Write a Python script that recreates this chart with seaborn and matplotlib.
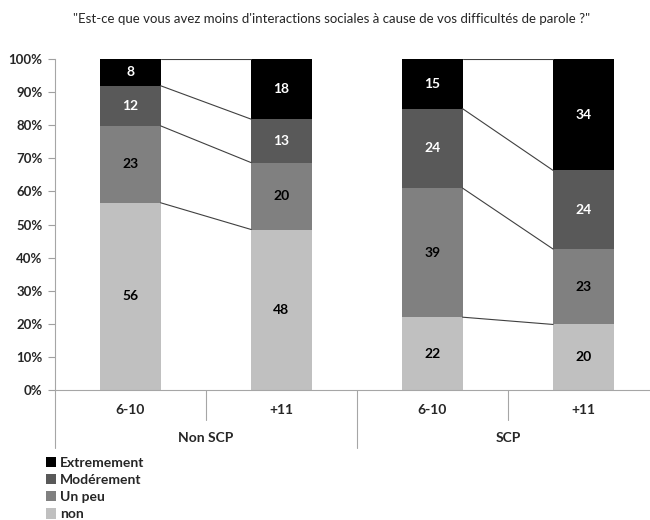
import numpy as np
import pandas as pd
import matplotlib.pyplot as plt
import seaborn as sns
from matplotlib.patches import Patch
from matplotlib.transforms import blended_transform_factory

# bars, left to right
bars = ["6-10", "+11", "6-10 ", "+11 "]
age_labels = ["6-10", "+11", "6-10", "+11"]
groups = ["Non SCP", "SCP"]
levels = ["non", "Un peu", "Modérement", "Extremement"]

non = [56, 48, 22, 20]
un_peu = [23, 20, 39, 23]
moderement = [12, 13, 24, 24]
extremement = [8, 18, 15, 34]

colors = {"non": "#c0c0c0", "Un peu": "#808080",
          "Modérement": "#595959", "Extremement": "#000000"}
text_colors = {"non": "black", "Un peu": "black",
               "Modérement": "white", "Extremement": "white"}

counts = pd.DataFrame({"non": non, "Un peu": un_peu,
                       "Modérement": moderement, "Extremement": extremement},
                      index=bars)
pct = counts.div(counts.sum(axis=1), axis=0) * 100
cum = pct.cumsum(axis=1)

sns.set_theme(style="white")
plt.rcParams['font.family'] = ['Lato', 'DejaVu Sans']

fig = plt.figure(figsize=(6.5, 5.2), dpi=100)
ax = fig.add_axes([0.0846, 0.25, 0.915, 0.6365])

# draw stacked bars from the top layer down
for lev in reversed(levels):
    d = pd.DataFrame({"bar": bars, "top": cum[lev].values})
    sns.barplot(data=d, x="bar", y="top", color=colors[lev], width=0.4,
                saturation=1, edgecolor="none", linewidth=0, ax=ax)

# segment labels
for i, b in enumerate(bars):
    bottom = 0
    for lev in levels:
        h = pct.loc[b, lev]
        ax.text(i, bottom + h / 2, str(counts.loc[b, lev]), ha="center", va="center",
                fontsize=10, fontweight="bold", color=text_colors[lev])
        bottom += h

# series lines between bars of the same group
for a, b in [(0, 1), (2, 3)]:
    for lev in levels:
        ax.plot([a + 0.2, b - 0.2], [cum.loc[bars[a], lev], cum.loc[bars[b], lev]],
                color="#404040", lw=0.8)

ax.set_ylim(0, 100)
ax.set_xlim(-0.5, 3.44)
ax.set_yticks(np.arange(0, 101, 10))
ax.set_yticklabels([f"{v}%" for v in range(0, 101, 10)], fontsize=9.5, fontweight="bold")
ax.set_xticks([])
ax.set_xlabel("")
ax.set_ylabel("")
ax.tick_params(axis="y", left=True, length=5, width=0.8, color="#a0a0a0", pad=4)
for s in ["top", "right"]:
    ax.spines[s].set_visible(False)
for s in ["left", "bottom"]:
    ax.spines[s].set_color("#a6a6a6")
    ax.spines[s].set_linewidth(0.8)

# multi-level category axis
tr = blended_transform_factory(ax.transData, ax.transAxes)
for x, y0 in [(-0.5, -0.175), (0.5, -0.09), (1.5, -0.175), (2.5, -0.09)]:
    ax.plot([x, x], [0, y0], transform=tr, color="#a6a6a6", lw=0.8, clip_on=False)
for i, lab in enumerate(age_labels):
    ax.text(i, -0.06, lab, transform=tr, ha="center", va="center",
            fontsize=10, fontweight="bold")
for j, g in enumerate(groups):
    ax.text(2 * j + 0.5, -0.145, g, transform=tr, ha="center", va="center",
            fontsize=10, fontweight="bold")

handles = [Patch(facecolor=colors[l], edgecolor="none") for l in reversed(levels)]
fig.legend(handles, list(reversed(levels)), loc="upper left",
           bbox_to_anchor=(0.07, 0.122), frameon=False,
           handlelength=0.75, handleheight=0.75, handletextpad=0.3,
           labelspacing=0.38, borderpad=0, borderaxespad=0,
           prop={"weight": "bold", "size": 10})

fig.text(0.51, 0.963, "\"Est-ce que vous avez moins d'interactions sociales à cause de vos difficultés de parole ?\"",
         ha="center", va="center", fontsize=9.5)

fig.savefig("out.png", dpi=100)
